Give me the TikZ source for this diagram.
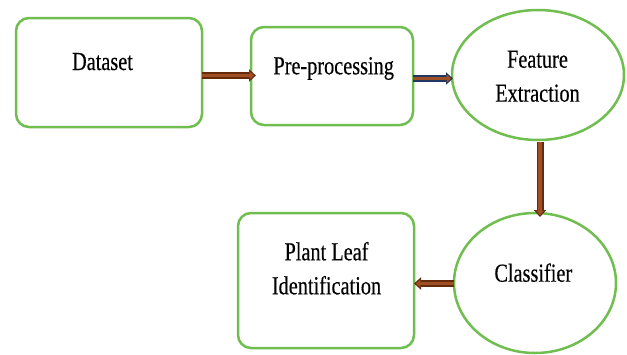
\documentclass[tikz,border=0pt]{standalone}
\usepackage{fontspec}
\setmainfont{Liberation Serif}[FakeStretch=0.78,FakeBold=0.3]
\usetikzlibrary{shapes.geometric,arrows.meta}
\definecolor{leafgreen}{RGB}{112,190,80}
\definecolor{brdark}{RGB}{100,42,12}
\definecolor{brmid}{RGB}{160,78,36}
\definecolor{bluedark}{RGB}{32,56,100}
\tikzset{
  boxshape/.style={draw=leafgreen, line width=2.5pt, rounded corners=13pt, fill=white, inner sep=0pt, outer sep=0pt},
  ellshape/.style={draw=leafgreen, line width=2.5pt, ellipse, fill=white, inner sep=0pt, outer sep=0pt},
  lbl/.style={font=\fontsize{26}{34}\selectfont, align=center, anchor=base, inner sep=0pt},
  connout/.style={line width=7pt, draw=#1, -{Triangle[length=7pt,width=12pt]}},
  connin/.style={line width=3.8pt, draw=brmid, shorten >=1.8pt, -{Triangle[length=4.5pt,width=7.5pt]}}
}
\begin{document}
\begin{tikzpicture}[x=1pt,y=-1pt]
\useasboundingbox[fill=white] (0,0) rectangle (627,354);
% shapes
\node[boxshape, minimum width=186pt, minimum height=109pt] (ds) at (109,72.5) {};
\node[boxshape, minimum width=162pt, minimum height=98pt] (pp) at (332,76) {};
\node[ellshape, minimum width=172pt, minimum height=130pt] (fe) at (538,75) {};
\node[ellshape, minimum width=162pt, minimum height=140pt] (cl) at (535,283) {};
\node[boxshape, minimum width=176pt, minimum height=135pt] (pl) at (326,280.5) {};
% labels
\node[lbl] (tds) at (102.5,70) {Dataset};
\node[lbl] (tpp) at (333.7,74.3) {Pre-processing};
\node[lbl] (tfe) at (537.5,101.7) {Feature\\Extraction};
\node[lbl] (tcl) at (533.3,281.7) {Classifier};
\node[lbl] (tpl) at (326.5,294.3) {Plant Leaf\\Identification};
% connectors
\coordinate (a1s) at (ds.east |- 0,75.5);
\coordinate (a1e) at ([xshift=5pt]pp.west |- 0,75.5);
\draw[connout=brdark] (a1s) -- (a1e);
\draw[connin] (a1s) -- (a1e);
\coordinate (a2s) at (pp.east |- 0,78.5);
\coordinate (a2e) at (453,78.5);
\draw[connout=bluedark] (a2s) -- (a2e);
\draw[connin] (a2s) -- (a2e);
\coordinate (a3s) at (540,142);
\coordinate (a3e) at (540,217);
\draw[connout=brdark] (a3s) -- (a3e);
\draw[connin] (a3s) -- (a3e);
\coordinate (a4s) at (cl.west |- 0,283.5);
\coordinate (a4e) at (pl.east |- 0,283.5);
\draw[connout=brdark] (a4s) -- (a4e);
\draw[connin] (a4s) -- (a4e);
\end{tikzpicture}
\end{document}
